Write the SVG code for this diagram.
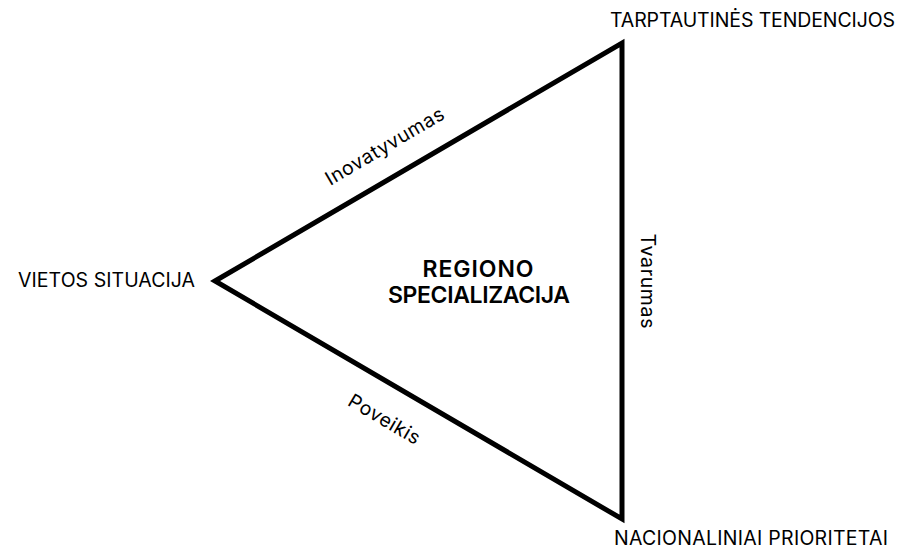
<svg xmlns="http://www.w3.org/2000/svg" width="900" height="551" viewBox="0 0 900 551">
  <style>
    .lbl { font-family: Inter, "DejaVu Sans", sans-serif; font-size: 19.5px; fill: #000; }
    .edge { font-family: Inter, "DejaVu Sans", sans-serif; font-size: 19.5px; fill: #000; text-anchor: middle; }
    .center { font-family: Inter, "DejaVu Sans", sans-serif; font-size: 23px; font-weight: 600; fill: #000; text-anchor: middle; }
  </style>
  <rect width="900" height="551" fill="#fff"/>
  <g id="connectors">
    <path d="M 215 281 L 622 43 L 622 519 Z" fill="none" stroke="#000" stroke-width="5" stroke-linejoin="miter" stroke-miterlimit="10"/>
  </g>
  <g id="node-center">
    <text class="center" x="478" y="277" textLength="111">REGIONO</text>
    <text class="center" x="479" y="303" textLength="182">SPECIALIZACIJA</text>
  </g>
  <g id="node-top">
    <text class="lbl" x="610" y="27" textLength="285">TARPTAUTINĖS TENDENCIJOS</text>
  </g>
  <g id="node-bottom">
    <text class="lbl" x="614" y="545" textLength="274">NACIONALINIAI PRIORITETAI</text>
  </g>
  <g id="node-left">
    <text class="lbl" x="18" y="287" textLength="177">VIETOS SITUACIJA</text>
  </g>
  <g id="edge-labels">
    <text class="edge" transform="translate(388,152) rotate(-30.4)" textLength="134">Inovatyvumas</text>
    <text class="edge" transform="translate(381,425) rotate(30.4)" textLength="80">Poveikis</text>
    <text class="edge" transform="translate(641,281) rotate(90)" textLength="95">Tvarumas</text>
  </g>
</svg>
